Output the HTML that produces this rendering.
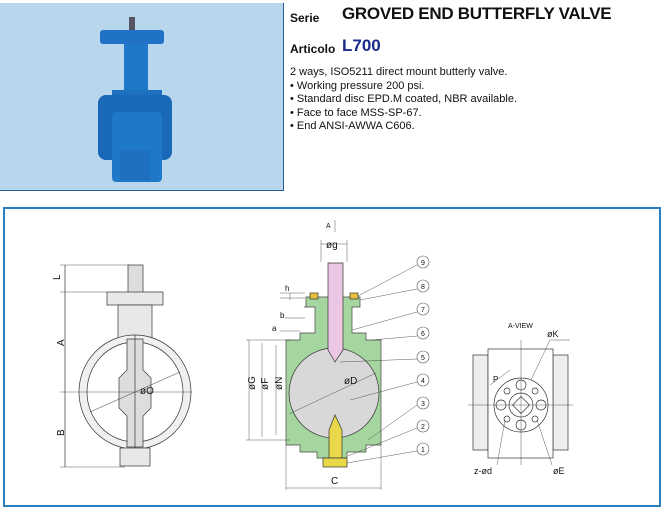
<!DOCTYPE html>
<html><head><meta charset="utf-8"><style>
body{margin:0;width:663px;height:510px;background:#fff;overflow:hidden;font-family:"Liberation Sans",sans-serif;position:relative}
.t{position:absolute;color:#111}
</style></head><body>
<div style="position:absolute;left:0;top:3px;width:283px;height:187px;background:#b9d7ec;border-right:1px solid #2a5d9a;border-bottom:1px solid #2a5d9a"></div>
<svg style="position:absolute;left:0;top:0" width="284" height="192">
<rect x="129" y="17" width="6" height="16" fill="#556"/>
<rect x="100" y="30" width="64" height="14" rx="3" fill="#1f72c6"/>
<rect x="124" y="44" width="24" height="75" fill="#2078c9"/>
<rect x="112" y="90" width="50" height="30" fill="#1f70c0"/>
<rect x="98" y="95" width="74" height="65" rx="8" fill="#1a68b8"/>
<rect x="112" y="112" width="50" height="70" rx="4" fill="#2078c9"/>
<rect x="120" y="150" width="30" height="30" fill="#1f70c0"/>
</svg>
<div class="t" style="left:290px;top:11px;font-size:12px;font-weight:bold">Serie</div>
<div class="t" style="left:342px;top:4px;font-size:17px;font-weight:bold;letter-spacing:-0.3px">GROVED END BUTTERFLY VALVE</div>
<div class="t" style="left:290px;top:42px;font-size:12px;font-weight:bold">Articolo</div>
<div class="t" style="left:342px;top:36px;font-size:17px;font-weight:bold;color:#1a2a8a">L700</div>
<div class="t" style="left:290px;top:66px;font-size:11px;line-height:13.5px">2 ways, ISO5211 direct mount butterly valve.<br>• Working pressure 200 psi.<br>• Standard disc EPD.M coated, NBR available.<br>• Face to face MSS-SP-67.<br>• End ANSI-AWWA C606.</div>
<div style="position:absolute;left:3px;top:207px;width:654px;height:296px;border:2px solid #2a7fc0"></div>
<svg style="position:absolute;left:0;top:0" width="663" height="510" font-family="Liberation Sans" font-size="9" fill="none" stroke="#333" stroke-width="0.7">
<!-- left view -->
<rect x="128" y="265" width="15" height="28" fill="#ddd"/>
<rect x="107" y="292" width="56" height="13" fill="#e8e8e8"/>
<rect x="118" y="305" width="34" height="33" fill="#e8e8e8"/>
<ellipse cx="135" cy="392" rx="56" ry="57" fill="#f0f0f0"/>
<ellipse cx="135" cy="392" rx="48" ry="50" fill="#fff"/>
<path d="M127 339 L143 339 L143 370 L151 378 L151 408 L143 416 L143 447 L127 447 L127 416 L119 408 L119 378 L127 370Z" fill="#ddd"/>
<line x1="135" y1="335" x2="135" y2="450"/>
<rect x="120" y="448" width="30" height="18" fill="#e8e8e8"/>
<line x1="80" y1="392" x2="192" y2="392" stroke-width="0.4"/>
<line x1="90" y1="412" x2="180" y2="372" stroke-width="0.5"/>
<line x1="65" y1="265" x2="65" y2="467"/>
<g stroke-width="0.4"><line x1="60" y1="265" x2="130" y2="265"/><line x1="60" y1="292" x2="107" y2="292"/><line x1="60" y1="392" x2="80" y2="392"/><line x1="60" y1="467" x2="125" y2="467"/></g>
<g fill="#111" stroke="none" font-size="10">
<text x="56" y="284" transform="rotate(-90 56 280)">L</text>
<text x="56" y="346" transform="rotate(-90 60 342)">A</text>
<text x="56" y="436" transform="rotate(-90 60 432)">B</text>
<text x="140" y="394">øO</text></g>
<!-- middle -->
<path d="M304 307 L306 307 L306 297 L360 297 L360 307 L352 307 L352 333 L366 333 L366 340 L381 340 L381 445 L366 445 L366 452 L347 452 L347 458 L317 458 L317 452 L300 452 L300 445 L286 445 L286 340 L300 340 L300 333 L315 333 L315 307Z" fill="#a6d6a0" stroke="#444"/>
<ellipse cx="334" cy="393" rx="45" ry="45" fill="#d8d8d8"/>
<path d="M328 263 L343 263 L343 350 L335 362 L328 350Z" fill="#ecc7e3"/>
<path d="M329 430 L335 415 L342 430 L342 458 L329 458Z" fill="#e8d84a"/>
<rect x="323" y="458" width="24" height="9" fill="#e8d84a"/>
<rect x="310" y="293" width="8" height="6" fill="#e8c040"/><rect x="350" y="293" width="8" height="6" fill="#e8c040"/>
<g stroke-width="0.4">
<line x1="286" y1="445" x2="286" y2="490"/><line x1="381" y1="445" x2="381" y2="490"/><line x1="286" y1="488" x2="381" y2="488"/>
<line x1="321" y1="240" x2="321" y2="262"/><line x1="347" y1="240" x2="347" y2="262"/><line x1="321" y1="244" x2="347" y2="244"/>
<line x1="249" y1="340" x2="249" y2="440"/><line x1="262" y1="343" x2="262" y2="437"/><line x1="276" y1="345" x2="276" y2="435"/>
<line x1="246" y1="340" x2="290" y2="340"/><line x1="246" y1="440" x2="290" y2="440"/>
<line x1="290" y1="300" x2="290" y2="293"/><line x1="280" y1="298" x2="305" y2="298"/><line x1="280" y1="293" x2="305" y2="293"/>
<line x1="285" y1="318" x2="305" y2="318"/><line x1="280" y1="331" x2="300" y2="331"/>
<line x1="289" y1="414" x2="376" y2="373"/>
<line x1="335" y1="220" x2="335" y2="232"/>
</g>
<g stroke-width="0.4">
<line x1="417" y1="265" x2="358" y2="296"/><line x1="417" y1="289" x2="360" y2="300"/><line x1="417" y1="312" x2="352" y2="330"/>
<line x1="417" y1="336" x2="372" y2="340"/><line x1="417" y1="359" x2="340" y2="362"/><line x1="417" y1="382" x2="350" y2="400"/>
<line x1="417" y1="405" x2="368" y2="440"/><line x1="417" y1="428" x2="348" y2="456"/><line x1="417" y1="451" x2="347" y2="463"/>
</g>
<g fill="#fff" stroke="#555" stroke-width="0.6">
<circle cx="423" cy="262" r="6"/><circle cx="423" cy="286" r="6"/><circle cx="423" cy="309" r="6"/><circle cx="423" cy="333" r="6"/><circle cx="423" cy="357" r="6"/><circle cx="423" cy="380" r="6"/><circle cx="423" cy="403" r="6"/><circle cx="423" cy="426" r="6"/><circle cx="423" cy="449" r="6"/></g>
<g fill="#111" stroke="none" font-size="7" text-anchor="middle">
<text x="423" y="265">9</text><text x="423" y="289">8</text><text x="423" y="312">7</text><text x="423" y="336">6</text><text x="423" y="360">5</text><text x="423" y="383">4</text><text x="423" y="406">3</text><text x="423" y="429">2</text><text x="423" y="452">1</text></g>
<g fill="#111" stroke="none" font-size="10">
<text x="326" y="248">øg</text><text x="344" y="384">øD</text><text x="331" y="484">C</text>
<text x="326" y="228" font-size="7">A</text>
<text x="285" y="291" font-size="8">h</text><text x="280" y="318" font-size="8">b</text><text x="272" y="331" font-size="8">a</text>
<text x="253" y="400" transform="rotate(-90 249 394)">øG</text>
<text x="266" y="400" transform="rotate(-90 262 394)">øF</text>
<text x="280" y="400" transform="rotate(-90 276 394)">øN</text></g>
<!-- right view -->
<rect x="473" y="355" width="15" height="95" fill="#eee"/>
<rect x="553" y="355" width="15" height="95" fill="#eee"/>
<rect x="488" y="349" width="65" height="109" fill="#fff"/>
<circle cx="521" cy="405" r="27" fill="#fff"/>
<circle cx="521" cy="405" r="12"/>
<rect x="515" y="399" width="12" height="12" transform="rotate(45 521 405)"/>
<g><circle cx="521" cy="385" r="5"/><circle cx="521" cy="425" r="5"/><circle cx="501" cy="405" r="5"/><circle cx="541" cy="405" r="5"/>
<circle cx="507" cy="391" r="3"/><circle cx="535" cy="391" r="3"/><circle cx="507" cy="419" r="3"/><circle cx="535" cy="419" r="3"/></g>
<g stroke-width="0.4"><line x1="521" y1="340" x2="521" y2="465"/><line x1="468" y1="405" x2="573" y2="405"/>
<line x1="531" y1="380" x2="550" y2="340"/><line x1="550" y1="340" x2="570" y2="340"/>
<line x1="505" y1="420" x2="497" y2="465"/><line x1="537" y1="420" x2="552" y2="465"/>
<line x1="490" y1="385" x2="510" y2="370"/></g>
<g fill="#111" stroke="none"><text x="508" y="328" font-size="7">A-VIEW</text><text x="547" y="337" font-size="9">øK</text>
<text x="474" y="474" font-size="9">z-ød</text><text x="553" y="474" font-size="9">øE</text>
<text x="493" y="382" font-size="8">P</text></g>
</svg>
</body></html>
